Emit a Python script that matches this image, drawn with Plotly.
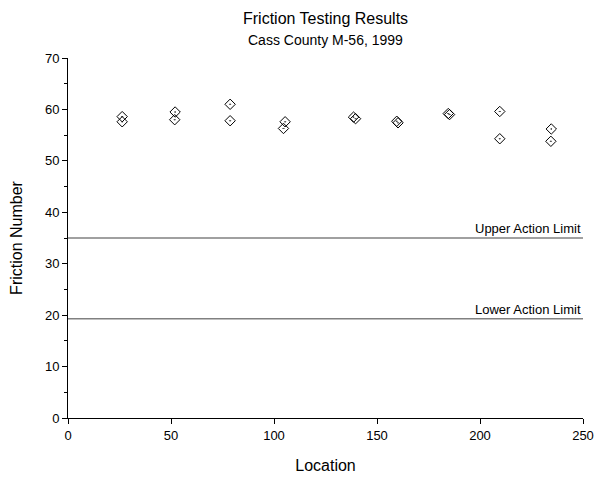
import plotly.graph_objects as go

# friction test readings, two per location
location = [26.3, 26.3, 52.0, 51.8, 78.7, 78.7, 105.4, 104.6,
            138.6, 139.6, 159.6, 160.2, 184.6, 185.2, 209.6, 209.6,
            234.6, 234.4]
friction = [58.6, 57.6, 59.5, 58.0, 61.0, 57.8, 57.6, 56.3,
            58.5, 58.2, 57.7, 57.4, 59.2, 59.0, 59.6, 54.3,
            56.2, 53.8]

upper_limit = 35
lower_limit = 19.3
limit_labels = ["Upper Action Limit", "Lower Action Limit"]

font = "Arial"

fig = go.Figure()

fig.add_trace(go.Scatter(
    x=location, y=friction, mode="markers",
    marker=dict(symbol="diamond-open-dot", size=8, color="black",
                line=dict(width=1, color="black")),
    showlegend=False))

for val, label in zip([upper_limit, lower_limit], limit_labels):
    fig.add_trace(go.Scatter(
        x=[0, 250], y=[val, val], mode="lines",
        line=dict(color="#808080", width=1.5),
        showlegend=False, hoverinfo="skip"))
    fig.add_annotation(x=250, y=val, text=label, showarrow=False,
                       xanchor="right", yanchor="bottom",
                       font=dict(size=13, color="black", family=font))

fig.add_annotation(x=0.5, y=1, xref="paper", yref="paper",
                   text="Friction Testing Results", showarrow=False,
                   yanchor="bottom", yshift=29,
                   font=dict(size=16, color="black", family=font))
fig.add_annotation(x=0.5, y=1, xref="paper", yref="paper",
                   text="Cass County M-56, 1999", showarrow=False,
                   yanchor="bottom", yshift=8,
                   font=dict(size=14, color="black", family=font))

fig.update_layout(
    width=596, height=480,
    margin=dict(l=68, r=13, t=58, b=62),
    plot_bgcolor="white", paper_bgcolor="white",
    font=dict(family=font, size=13, color="black"),
    xaxis=dict(range=[0, 250], dtick=50, showgrid=False, zeroline=False,
               showline=True, linecolor="black", linewidth=1,
               ticks="outside", ticklen=5, tickcolor="black",
               automargin=False, ticklabeloverflow="allow",
               title=dict(text="Location", font=dict(size=16), standoff=18)),
    yaxis=dict(range=[0, 70], dtick=10, showgrid=False, zeroline=False,
               showline=True, linecolor="black", linewidth=1,
               ticks="outside", ticklen=5, tickcolor="black",
               automargin=False,
               minor=dict(dtick=5, ticks="outside", ticklen=3,
                          tickcolor="black", showgrid=False),
               title=dict(text="Friction Number", font=dict(size=16),
                          standoff=18)),
)

# drop the default page margin so the figure sits at the window's corner
fig.write_html("out.html", config={"displayModeBar": False},
               post_script="document.body.style.margin='0';"
                           "document.body.style.overflow='hidden';")
